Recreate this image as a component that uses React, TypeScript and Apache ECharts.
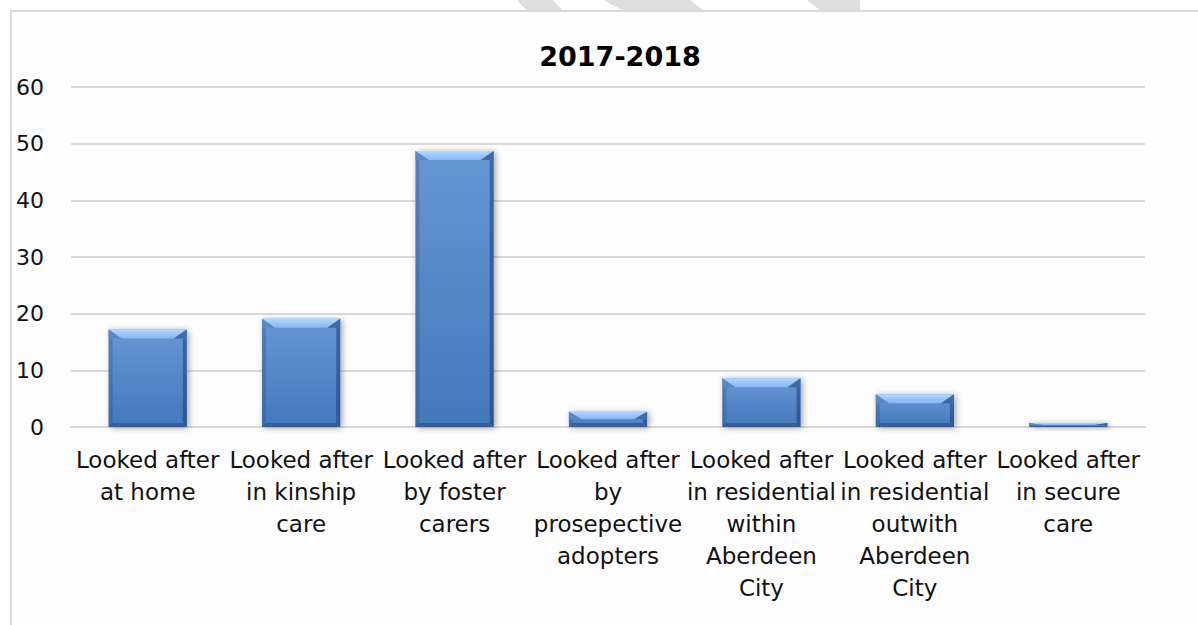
import React, { useEffect, useRef } from "react";
import * as echarts from "echarts";

const categories = [
  "Looked after\nat home",
  "Looked after\nin kinship\ncare",
  "Looked after\nby foster\ncarers",
  "Looked after\nby\nprosepective\nadopters",
  "Looked after\nin residential\nwithin\nAberdeen\nCity",
  "Looked after\nin residential\noutwith\nAberdeen\nCity",
  "Looked after\nin secure\ncare",
];
const values = [17.2, 19.1, 48.7, 2.7, 8.6, 5.8, 0.7];
const yTicks = { min: 0, max: 60, interval: 10 };
const titleText = "2017-2018";

const FONT = "DejaVu Sans";

export default function App() {
  const ref = useRef<HTMLDivElement>(null);
  useEffect(() => {
    if (!ref.current) return;
    const chart = echarts.init(ref.current, null, { renderer: "svg" });
    const option: any = {
      animation: false,
      backgroundColor: "#ffffff",
      graphic: [
        {
          type: "polygon",
          z: -10,
          shape: { points: [[517, 0], [553, 0], [563, 11], [527, 11]] },
          style: { fill: "#dedede" },
        },
        {
          type: "polygon",
          z: -10,
          shape: { points: [[603, 0], [690, 0], [704, 11], [624, 11]] },
          style: { fill: "#dedede" },
        },
        {
          type: "polygon",
          z: -10,
          shape: { points: [[807, 0], [860, 0], [860, 11], [821, 11]] },
          style: { fill: "#dedede" },
        },
        {
          type: "rect",
          z: -9,
          shape: { x: 11, y: 11, width: 1300, height: 700 },
          style: { fill: "#fdfdfd", stroke: "#d9d9d9", lineWidth: 2 },
        },
      ],
      title: {
        text: titleText,
        left: 615,
        top: 38,
        textAlign: "center",
        textStyle: { fontFamily: FONT, fontSize: 27, fontWeight: "bold", color: "#000" },
      },
      grid: { left: 71, right: 53, top: 87, bottom: 198, containLabel: false },
      xAxis: {
        type: "category",
        data: categories,
        axisLine: { show: true, lineStyle: { color: "#d9d9d9", width: 2 } },
        axisTick: { show: false },
        axisLabel: {
          interval: 0,
          margin: 17,
          fontFamily: FONT,
          fontSize: 23,
          lineHeight: 32,
          color: "#111",
        },
      },
      yAxis: {
        type: "value",
        min: yTicks.min,
        max: yTicks.max,
        interval: yTicks.interval,
        axisLine: { show: false },
        axisTick: { show: false },
        splitLine: { lineStyle: { color: "#d9d9d9", width: 2 } },
        axisLabel: { margin: 27, fontFamily: FONT, fontSize: 22, color: "#111" },
      },
      series: [
        {
          type: "custom",
          data: values.map((v, i) => [i, v]),
          encode: { x: 0, y: 1 },
          renderItem: (params: any, api: any) => {
            const idx = api.value(0);
            const v = api.value(1);
            const top = api.coord([idx, v]);
            const base = api.coord([idx, 0]);
            const band = api.size([1, 0])[0];
            const w = band * 0.51;
            const x = top[0] - w / 2;
            const y = top[1];
            const h = base[1] - top[1];
            const b = Math.min(9, h / 2);
            const bx = Math.min(13, w / 4);
            const edge = Math.min(4, h / 3);
            return {
              type: "group",
              children: [
                {
                  type: "rect",
                  shape: { x, y, width: w, height: h },
                  style: {
                    fill: new echarts.graphic.LinearGradient(0, 0, 0, 1, [
                      { offset: 0, color: "#6796d4" },
                      { offset: 1, color: "#4478bc" },
                    ]),
                    shadowBlur: 6,
                    shadowOffsetX: 2,
                    shadowOffsetY: 1,
                    shadowColor: "rgba(0,0,0,0.35)",
                  },
                },
                {
                  type: "polygon",
                  shape: { points: [[x, y + b], [x + edge, y + b], [x + edge, y + h - edge], [x, y + h]] },
                  style: { fill: "rgba(30,60,110,0.25)" },
                },
                {
                  type: "polygon",
                  shape: { points: [[x + w, y + b], [x + w - edge, y + b], [x + w - edge, y + h - edge], [x + w, y + h]] },
                  style: { fill: "rgba(20,45,95,0.45)" },
                },
                {
                  type: "polygon",
                  shape: { points: [[x, y + h], [x + edge, y + h - edge], [x + w - edge, y + h - edge], [x + w, y + h]] },
                  style: { fill: "rgba(20,45,95,0.35)" },
                },
                {
                  type: "polygon",
                  shape: { points: [[x, y], [x + w, y], [x + w - bx, y + b], [x + bx, y + b]] },
                  style: {
                    fill: new echarts.graphic.LinearGradient(0, 0, 0, 1, [
                      { offset: 0, color: "#b6d7fb" },
                      { offset: 1, color: "#86b6ee" },
                    ]),
                  },
                },
                {
                  type: "polygon",
                  shape: { points: [[x, y], [x + bx, y + b], [x + edge, y + b], [x, y + b]] },
                  style: { fill: "#5a88c4" },
                },
                {
                  type: "polygon",
                  shape: { points: [[x + w, y], [x + w - bx, y + b], [x + w - edge, y + b], [x + w, y + b]] },
                  style: { fill: "#3f6aa3" },
                },
              ],
            };
          },
        },
      ],
    };
    chart.setOption(option);
    return () => chart.dispose();
  }, []);
  return (
    <div
      ref={ref}
      style={{ position: "absolute", left: 0, top: 0, width: 1198, height: 625 }}
    />
  );
}
